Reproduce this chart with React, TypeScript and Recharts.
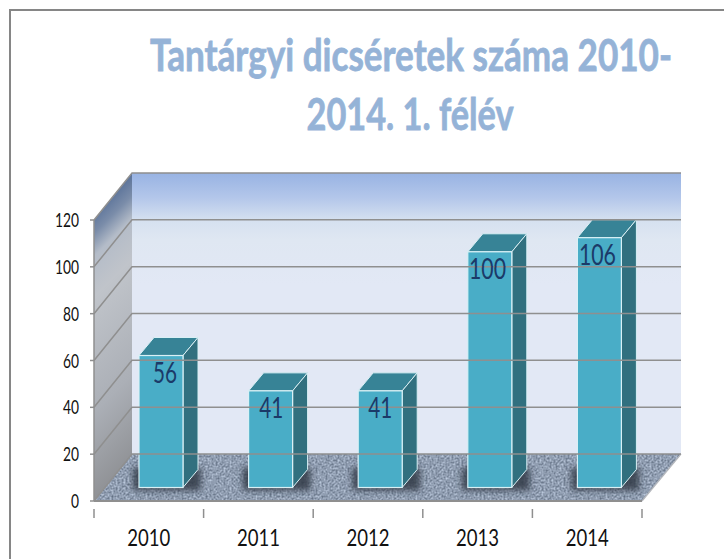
import React from "react";
import { BarChart, Bar, XAxis, YAxis, ReferenceArea, ReferenceLine, LabelList } from "recharts";

const years = ["2010", "2011", "2012", "2013", "2014"];
const counts = [56, 41, 41, 100, 106];
const yTicks = [0, 20, 40, 60, 80, 100, 120];
const titleLines = ["Tantárgyi dicséretek száma 2010-", "2014. 1. félév"];

const rows = years.map((year, i) => ({ year, count: counts[i] }));

const FONT = "Lato, 'Open Sans', sans-serif";
const AXIS_GREY = "#8f8f8f";
// 3D projection of the chart box
const DEPTH_X = 38;
const DEPTH_Y = 47;
// bars stand in the middle of the floor, and are shallower than it
const BAR_SHIFT_X = 12;
const BAR_SHIFT_Y = 13.5;
const BAR_DEPTH_X = 15;
const BAR_DEPTH_Y = 18;
const BAR_PERSPECTIVE = 1.0065;
const BAND = 548 / 5;
const LABEL_NUDGE = [4, 0.7, 0, -2.3, -2];
const LABEL_WIDTH: Record<number, number> = { 2: 24, 3: 37 };

function Box(props: any) {
  const { x, y, width, height } = props;
  const l = x;
  const r = x + width;
  const t = y + height; // bottom of the plot area
  const top = y;
  const backL = l + DEPTH_X;
  const backR = r + DEPTH_X + 1;
  const backTop = top - DEPTH_Y;
  const backBottom = t - DEPTH_Y;
  return (
    <g>
      <defs>
        <linearGradient id="backWall" x1="0" y1="0" x2="0" y2="1">
          <stop offset="0" stopColor="#98b3e3" />
          <stop offset="0.09" stopColor="#b4c7ea" />
          <stop offset="0.17" stopColor="#d6e1f0" />
          <stop offset="0.24" stopColor="#dfe7f2" />
          <stop offset="0.4" stopColor="#e2e8f5" />
          <stop offset="1" stopColor="#e2e8f5" />
        </linearGradient>
        <linearGradient id="sideWall" gradientUnits="userSpaceOnUse" x1={l + 16} y1={top - 26} x2={l + 161} y2={top + 119}>
          <stop offset="0" stopColor="#5a7299" />
          <stop offset="0.08" stopColor="#7a8ca9" />
          <stop offset="0.16" stopColor="#b4bcc8" />
          <stop offset="0.3" stopColor="#c0c4ca" />
          <stop offset="0.7" stopColor="#abafb6" />
          <stop offset="1" stopColor="#909296" />
        </linearGradient>
        <filter id="floorNoise" x="0" y="0" width="100%" height="100%" colorInterpolationFilters="sRGB">
          <feTurbulence type="fractalNoise" baseFrequency="0.5" numOctaves="2" seed="4" result="n" />
          <feColorMatrix
            in="n"
            type="matrix"
            values="0.6 0 0 0 0.27  0.6 0 0 0 0.32  0.6 0 0 0 0.4  0 0 0 0 0.9"
            result="g"
          />
          <feGaussianBlur in="g" stdDeviation="0.4" result="b" />
          <feComposite in="b" in2="SourceAlpha" operator="in" />
        </filter>
        <filter id="barShadow" x="-30%" y="-60%" width="160%" height="220%">
          <feGaussianBlur stdDeviation="3" />
        </filter>
      </defs>
      <polygon points={`${backL},${backTop} ${backR},${backTop} ${backR},${backBottom} ${backL},${backBottom}`} fill="url(#backWall)" />
      <polygon points={`${l},${top} ${backL},${backTop} ${backL},${backBottom} ${l},${t}`} fill="url(#sideWall)" />
      <polygon points={`${l},${t} ${r},${t} ${backR},${backBottom} ${backL},${backBottom}`} fill="#8996a6" />
      <polygon points={`${l},${t} ${r},${t} ${backR},${backBottom} ${backL},${backBottom}`} fill="#000" filter="url(#floorNoise)" />
      <line x1={r} y1={t} x2={backR} y2={backBottom} stroke="#b5b8bd" strokeWidth={1.2} />
    </g>
  );
}

function WallLine(props: any) {
  const vb = props.viewBox ?? {};
  const lx = props.x1 ?? vb.x ?? 94;
  const rx = props.x2 ?? lx + (vb.width ?? 548);
  const yy = props.y1 ?? vb.y ?? 0;
  const pts = `${lx},${yy} ${lx + DEPTH_X},${yy - DEPTH_Y} ${rx + DEPTH_X + 1},${yy - DEPTH_Y}`;
  return <polyline points={pts} fill="none" stroke={AXIS_GREY} strokeWidth={1.5} />;
}

function Bar3D(props: any) {
  const x = props.x + BAR_SHIFT_X;
  const w = props.width;
  const h = props.height * BAR_PERSPECTIVE;
  const b = props.y + props.height - BAR_SHIFT_Y;
  const y = b - h;
  const r = x + w;
  const dx = BAR_DEPTH_X;
  const dy = BAR_DEPTH_Y;
  const edge = "#d9f0f5";
  return (
    <g>
      <rect x={x - 6} y={b - 20} width={w + dx + 9} height={23} fill="#333b47" opacity={0.85} filter="url(#barShadow)" />
      <polygon points={`${x},${y} ${x + dx},${y - dy} ${r + dx},${y - dy} ${r},${y}`} fill="#378396" stroke={edge} strokeWidth={1} />
      <polygon points={`${r},${y} ${r + dx},${y - dy} ${r + dx},${b - dy} ${r},${b}`} fill="#31707f" stroke={edge} strokeWidth={1} />
      <rect x={x} y={y} width={w} height={h} fill="#49adc7" stroke={edge} strokeWidth={1.2} />
    </g>
  );
}

function ValueLabel(props: any) {
  const { x, y, width, height, value, index } = props;
  const text = String(value);
  const bar = height * BAR_PERSPECTIVE;
  return (
    <text
      x={x + BAR_SHIFT_X + width / 2 + LABEL_NUDGE[index]}
      y={y + height - BAR_SHIFT_Y - bar + 27}
      textAnchor="middle"
      fontFamily={FONT}
      fontSize={29}
      fill="#1b3a68"
      textLength={LABEL_WIDTH[text.length]}
      lengthAdjust="spacingAndGlyphs"
    >
      {text}
    </text>
  );
}

function YearTick(props: any) {
  const { x, y, payload, index } = props;
  return (
    <g>
      <line x1={x - BAND / 2} y1={y} x2={x - BAND / 2} y2={y + 9} stroke={AXIS_GREY} strokeWidth={1.5} />
      {index === years.length - 1 && (
        <line x1={x + BAND / 2} y1={y} x2={x + BAND / 2} y2={y + 9} stroke={AXIS_GREY} strokeWidth={1.5} />
      )}
      <text
        x={x}
        y={546}
        textAnchor="middle"
        fontFamily={FONT}
        fontSize={24}
        fill="#111"
        textLength={43}
        lengthAdjust="spacingAndGlyphs"
      >
        {payload.value}
      </text>
    </g>
  );
}

function CountTick(props: any) {
  const { y, payload } = props;
  const s = String(payload.value);
  return (
    <g>
      <line x1={90} y1={y} x2={94} y2={y} stroke={AXIS_GREY} strokeWidth={1.5} />
      <text
        x={79}
        y={y + 7}
        textAnchor="end"
        fontFamily={FONT}
        fontSize={19}
        fill="#111"
        textLength={s.length * 8}
        lengthAdjust="spacingAndGlyphs"
      >
        {s}
      </text>
    </g>
  );
}

function TitleLine({ text, cx, baseline, width }: any) {
  return (
    <text
      transform={`translate(${cx},${baseline}) scale(1,1.265)`}
      x={0}
      y={0}
      textAnchor="middle"
      fontFamily={FONT}
      fontWeight={700}
      fontSize={34}
      fill="#95b3d7"
      stroke="#95b3d7"
      strokeWidth={0.6}
      textLength={width}
      lengthAdjust="spacingAndGlyphs"
    >
      {text}
    </text>
  );
}

export default function App() {
  return (
    <div style={{ position: "absolute", left: 0, top: 0, width: 724, height: 559, overflow: "hidden", background: "#fff" }}>
      <div
        style={{
          position: "absolute",
          left: 9,
          top: 9,
          right: 0,
          bottom: 0,
          borderLeft: "2px solid #868686",
          borderTop: "2px solid #868686",
        }}
      />
      <div style={{ position: "absolute", left: 0, top: 0 }}>
        <BarChart
          width={724}
          height={559}
          data={rows}
          barSize={44}
          margin={{ top: 220, right: 82, bottom: 0, left: 0 }}
        >
          {TitleLine({ text: titleLines[0], cx: 411, baseline: 71, width: 522 })}
          {TitleLine({ text: titleLines[1], cx: 410, baseline: 130, width: 207 })}
          <ReferenceArea y1={0} y2={120} ifOverflow="visible" shape={Box} />
          {yTicks.map((v) => (
            <ReferenceLine key={v} y={v} ifOverflow="visible" shape={WallLine} />
          ))}
          <XAxis
            dataKey="year"
            height={58}
            axisLine={{ stroke: AXIS_GREY, strokeWidth: 2 }}
            tickLine={false}
            tick={YearTick}
            interval={0}
          />
          <YAxis
            width={94}
            domain={[0, 120]}
            ticks={yTicks}
            interval={0}
            axisLine={{ stroke: AXIS_GREY, strokeWidth: 1.5 }}
            tickLine={false}
            tick={CountTick}
          />
          <Bar dataKey="count" isAnimationActive={false} shape={Bar3D}>
            <LabelList dataKey="count" content={ValueLabel} />
          </Bar>
        </BarChart>
      </div>
    </div>
  );
}
